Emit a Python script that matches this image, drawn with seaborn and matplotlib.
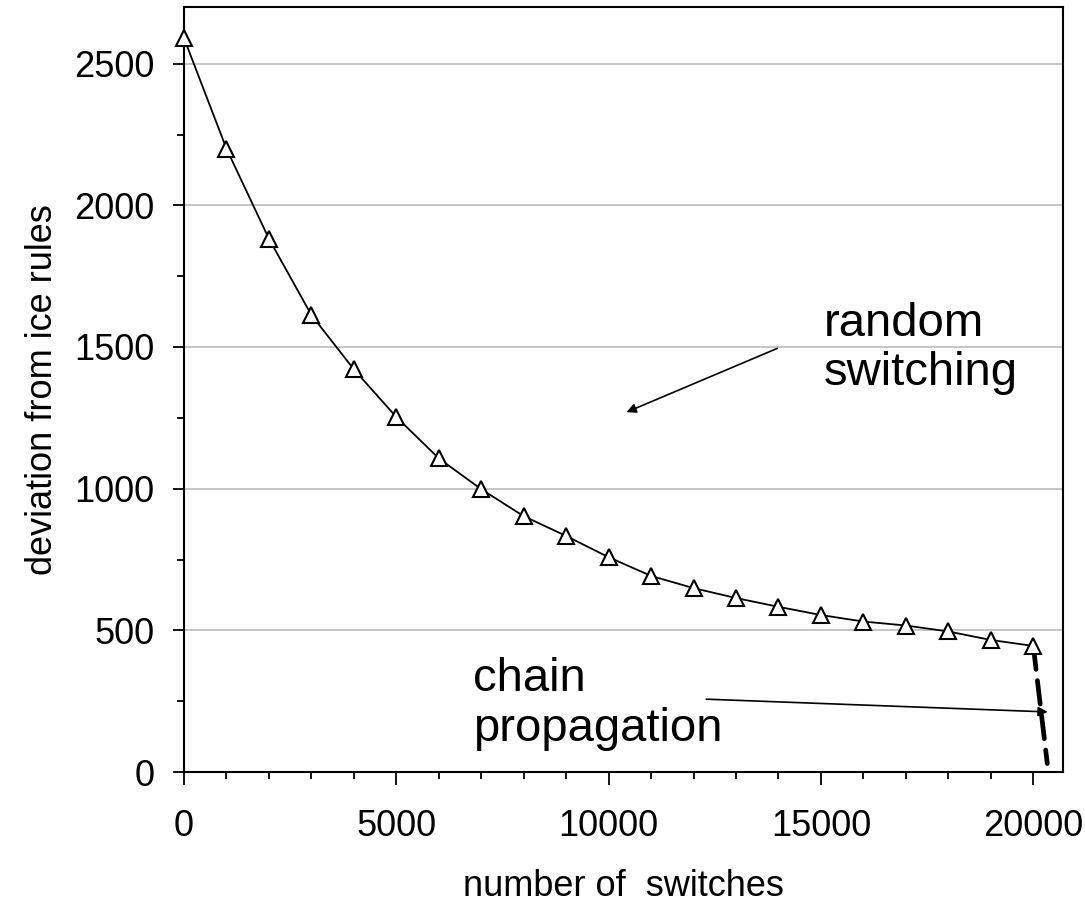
import matplotlib
matplotlib.use("Agg")
import matplotlib.pyplot as plt
from matplotlib.ticker import MultipleLocator
import numpy as np
import pandas as pd
import seaborn as sns

# Deviation from the ice rules as spins are switched at random
switches = [0, 1000, 2000, 3000, 4000, 5000, 6000, 7000, 8000, 9000, 10000,
            11000, 12000, 13000, 14000, 15000, 16000, 17000, 18000, 19000, 20000]
deviation = [2590, 2200, 1882, 1613, 1421, 1253, 1107, 998, 903, 833, 758,
             692, 649, 614, 583, 554, 531, 517, 496, 466, 445]

# Final drop once chain propagation takes over
chain_switches = [20000, 20330]
chain_deviation = [445, 30]

x_ticks = [0, 5000, 10000, 15000, 20000]
y_ticks = [0, 500, 1000, 1500, 2000, 2500]

sns.set_theme(style="white")
plt.rcParams["font.family"] = ["Liberation Sans", "DejaVu Sans"]
plt.rcParams.update({
    "text.color": "black",
    "axes.labelcolor": "black",
    "xtick.color": "black",
    "ytick.color": "black",
})

df = pd.DataFrame({"switches": switches, "deviation": deviation})
df_chain = pd.DataFrame({"switches": chain_switches, "deviation": chain_deviation})

fig = plt.figure(figsize=(10.85, 9.07), dpi=100)
ax = fig.add_axes([184 / 1085, 1 - 772 / 907, (1063 - 184) / 1085, (772 - 7) / 907])

sns.lineplot(data=df, x="switches", y="deviation", ax=ax, color="black",
             linewidth=1.3, marker="^", markersize=11.5, markerfacecolor="white",
             markeredgecolor="black", markeredgewidth=1.5, zorder=4, clip_on=False)
sns.lineplot(data=df_chain, x="switches", y="deviation", ax=ax, color="black",
             linewidth=3.4, zorder=3, legend=False)
chain_line = ax.lines[-1]
chain_line.set_linestyle((0, (5, 2.4)))
chain_line.set_dash_capstyle("round")

ax.set_xlim(0, 20700)
ax.set_ylim(0, 2700)
ax.set_xticks(x_ticks)
ax.set_yticks(y_ticks)
ax.xaxis.set_minor_locator(MultipleLocator(1000))
ax.yaxis.set_minor_locator(MultipleLocator(250))

ax.yaxis.grid(True, which="major", color="#c0c0c0", linewidth=1.3)
ax.xaxis.grid(False)
ax.set_axisbelow(True)

for side in ["left", "right", "top", "bottom"]:
    ax.spines[side].set_visible(True)
    ax.spines[side].set_color("black")
    ax.spines[side].set_linewidth(1.5)

ax.tick_params(axis="x", which="major", direction="out", length=9, width=1.3,
               labelsize=26, pad=18, bottom=True)
ax.tick_params(axis="y", which="major", direction="out", length=8, width=1.3,
               labelsize=26, pad=13.5, left=True)
ax.tick_params(axis="both", which="minor", direction="out", length=5, width=1.3,
               bottom=True, left=True)

ax.set_xlabel("number of  switches", fontsize=26, labelpad=18)
ax.set_ylabel("deviation from ice rules", fontsize=26, labelpad=10)

ax.annotate("", xy=(10420, 1270), xytext=(13970, 1495),
            arrowprops=dict(arrowstyle="-|>", color="black", lw=1.2,
                            mutation_scale=14, shrinkA=0, shrinkB=0))
ax.text(15060, 1495, "random\nswitching", fontsize=34, ha="left", va="center",
        linespacing=1.17)

ax.annotate("", xy=(20340, 212), xytext=(12300, 257),
            arrowprops=dict(arrowstyle="-|>", color="black", lw=1.2,
                            mutation_scale=14, shrinkA=0, shrinkB=0))
ax.text(6800, 240, "chain\npropagation", fontsize=34, ha="left", va="center",
        linespacing=1.17)

fig.savefig("out.png", dpi=100)
